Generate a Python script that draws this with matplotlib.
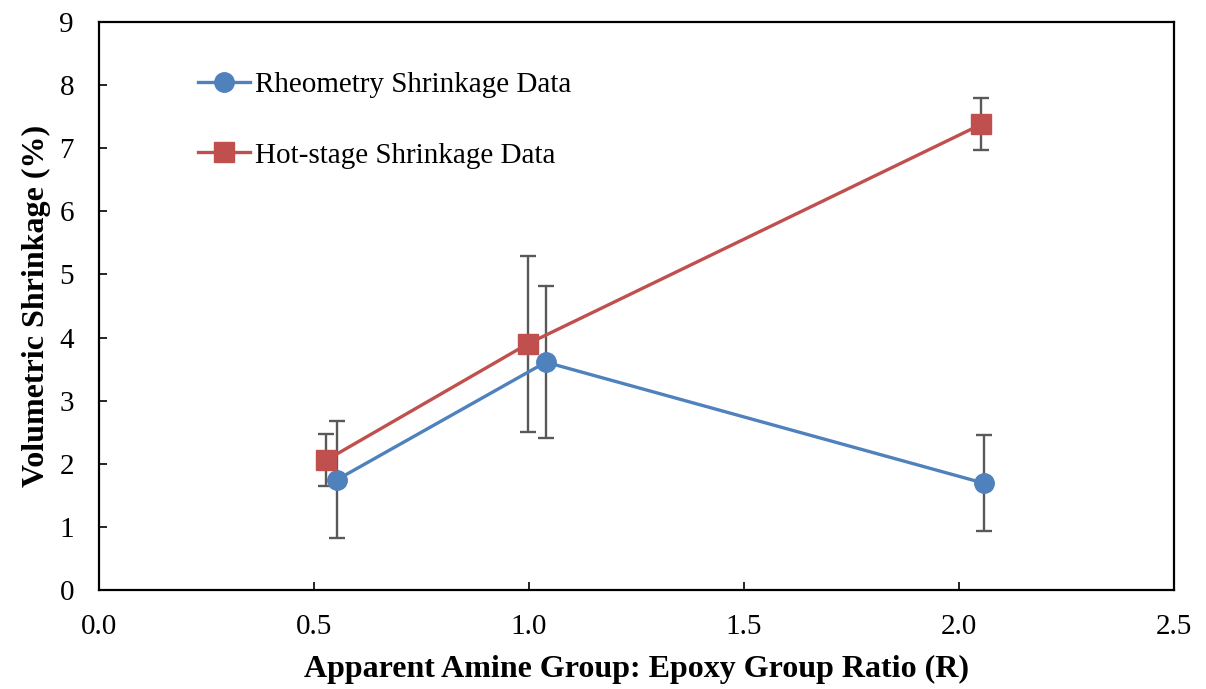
import matplotlib.pyplot as plt

# Amine:epoxy ratio vs. volumetric shrinkage
rheo_r = [0.554, 1.039, 2.059]
rheo_shrink = [1.75, 3.61, 1.69]
rheo_err = [0.93, 1.20, 0.76]

hot_r = [0.529, 0.997, 2.052]
hot_shrink = [2.06, 3.90, 7.38]
hot_err = [0.41, 1.40, 0.41]

x_ticks = [0.0, 0.5, 1.0, 1.5, 2.0, 2.5]
y_ticks = list(range(0, 10))

plt.rcParams['font.family'] = ['Liberation Serif', 'DejaVu Serif']

fig = plt.figure(figsize=(12.06, 6.89), dpi=100)
ax = fig.add_axes([0.0821, 0.1437, 0.8914, 0.8243])

blue = '#4F81BD'
red = '#C0504D'
grey = '#595959'

ax.errorbar(rheo_r, rheo_shrink, yerr=rheo_err, fmt='none', ecolor=grey,
            elinewidth=1.7, capsize=5.5, capthick=1.7, zorder=2)
ax.errorbar(hot_r, hot_shrink, yerr=hot_err, fmt='none', ecolor=grey,
            elinewidth=1.7, capsize=5.5, capthick=1.7, zorder=2)

ax.plot(rheo_r, rheo_shrink, color=blue, lw=2.4, marker='o', ms=14,
        label='Rheometry Shrinkage Data', zorder=3)
ax.plot(hot_r, hot_shrink, color=red, lw=2.4, marker='s', ms=14,
        label='Hot-stage Shrinkage Data', zorder=3)

ax.set_xlim(0, 2.5)
ax.set_ylim(0, 9)
ax.set_xticks(x_ticks)
ax.set_xticklabels([f'{v:.1f}' for v in x_ticks])
ax.set_yticks(y_ticks)

ax.tick_params(direction='in', length=6, width=1.2, labelsize=21, pad=17)
ax.tick_params(axis='y', pad=18)
for s in ax.spines.values():
    s.set_linewidth(1.6)

ax.set_xlabel('Apparent Amine Group: Epoxy Group Ratio (R)',
              fontsize=23, fontweight='bold', labelpad=11)
ax.set_ylabel('Volumetric Shrinkage (%)', fontsize=23, fontweight='bold', labelpad=6)

ax.legend(loc='upper left', bbox_to_anchor=(0.092, 0.912), frameon=False,
          fontsize=21, handlelength=1.8, handletextpad=0.15, labelspacing=1.5,
          borderaxespad=0, borderpad=0)

fig.savefig('out.png', dpi=100)
